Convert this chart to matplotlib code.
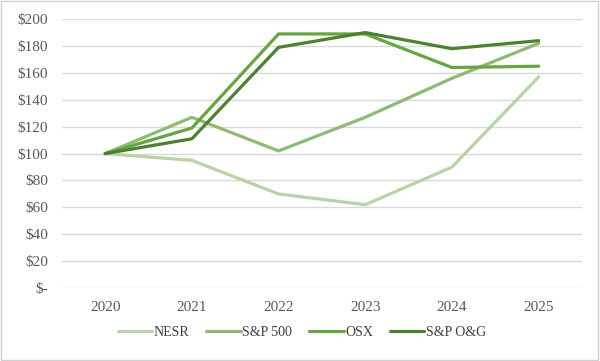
import matplotlib
matplotlib.use("Agg")
import matplotlib.pyplot as plt
from matplotlib.patches import Rectangle

years = ["2020", "2021", "2022", "2023", "2024", "2025"]
nesr = [100, 95, 70, 62, 90, 157]
sp500 = [100, 127, 102, 127, 156, 182]
osx = [100, 119, 189, 189, 164, 165]
sp_og = [100, 111, 179, 190, 178, 184]

series = [
    ("NESR", nesr, "#b7d3a8"),
    ("S&P 500", sp500, "#8dbb74"),
    ("OSX", osx, "#66a53f"),
    ("S&P O&G", sp_og, "#4b8130"),
]

plt.rcParams["font.family"] = ["Liberation Serif", "DejaVu Serif"]

fig = plt.figure(figsize=(6, 3.61), dpi=100)
ax = fig.add_axes([0.103, 0.202, 0.867, 0.745])

x = list(range(len(years)))
for label, vals, color in series:
    ax.plot(x, vals, color=color, lw=2.3, label=label, solid_capstyle="round",
            solid_joinstyle="round")

ax.set_xlim(-0.5, len(years) - 0.5)
ax.set_ylim(0, 200)
ax.set_yticks(range(0, 201, 20))
ax.set_yticklabels(["$-"] + [f"${v}" for v in range(20, 201, 20)])
ax.set_xticks(x)
ax.set_xticklabels(years)
ax.grid(axis="y", color="#d9d9d9", lw=1)
ax.set_axisbelow(True)
for s in ax.spines.values():
    s.set_visible(False)
ax.tick_params(length=0, labelsize=11, colors="#595959", pad=9)
ax.tick_params(axis="y", pad=10)

fig.legend(*ax.get_legend_handles_labels(), loc="center", bbox_to_anchor=(0.503, 0.078),
           ncol=4, frameon=False, fontsize=10, handlelength=2.5, handletextpad=0.1,
           columnspacing=1.2, labelcolor="#404040")

fig.patches.append(Rectangle((0.002, 0.003), 0.995, 0.994, transform=fig.transFigure,
                             fill=False, edgecolor="#d0d0d0", lw=1))

fig.savefig("out.png", dpi=100)
